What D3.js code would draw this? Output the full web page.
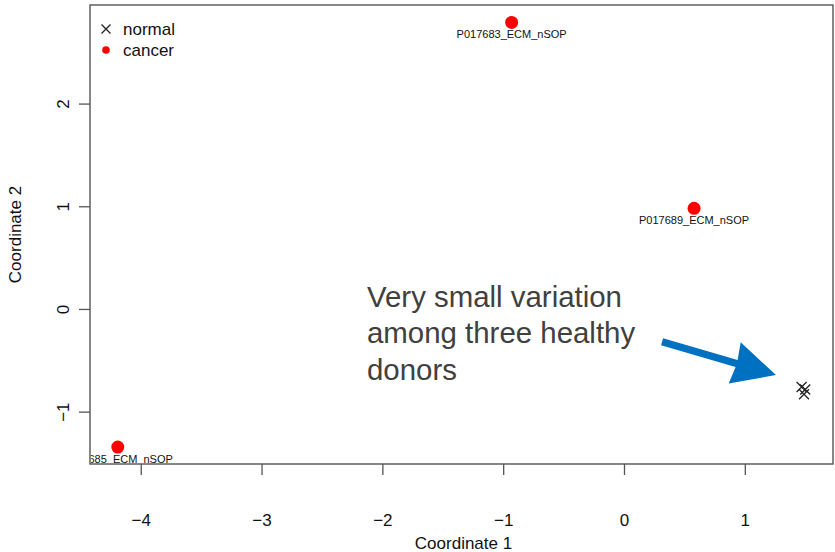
<!DOCTYPE html>
<html>
<head>
<meta charset="utf-8">
<script src="https://cdn.jsdelivr.net/npm/d3@7"></script>
<style>
  html, body { margin: 0; padding: 0; background: #fff; }
  svg { display: block; }
  text { font-family: "Liberation Sans", Arial, Helvetica, sans-serif; }
</style>
</head>
<body>
<svg id="chart" width="835" height="552"></svg>
<script>
// MDS coordinates of the ECM samples
const cancerNames = ["P017683_ECM_nSOP", "P017689_ECM_nSOP", "P017685_ECM_nSOP"];
const cancerX = [-0.93, 0.58, -4.19];
const cancerY = [2.79, 0.98, -1.345];

const normalX = [1.47, 1.49, 1.50];
const normalY = [-0.76, -0.83, -0.785];

const xTicks = [-4, -3, -2, -1, 0, 1];
const yTicks = [-1, 0, 1, 2];

const legendLabels = ["normal", "cancer"];
const noteLines = ["Very small variation", "among three healthy", "donors"];
// arrow from the note to the normal cluster, in data units: [tail, tip]
const arrowX = [0.315, 1.258];
const arrowY = [-0.32, -0.643];

const svg = d3.select("#chart");
const box = { left: 90, right: 833, top: 5, bottom: 464 };

const x = d3.scaleLinear().domain([-4.42, 1.73]).range([box.left, box.right]);
const y = d3.scaleLinear().domain([-1.51, 2.96]).range([box.bottom, box.top]);

const minus = d => (d < 0 ? "\u2212" + Math.abs(d) : String(d));

// axes
const xAxis = svg.append("g")
  .attr("transform", `translate(0,${box.bottom})`)
  .call(d3.axisBottom(x).tickValues(xTicks).tickSize(11).tickPadding(51).tickFormat(minus));
const yAxis = svg.append("g")
  .attr("transform", `translate(${box.left},0)`)
  .call(d3.axisLeft(y).tickValues(yTicks).tickSize(11).tickFormat(minus));

[xAxis, yAxis].forEach(g => {
  g.select(".domain").remove();
  g.selectAll(".tick line").attr("stroke", "#555").attr("stroke-width", 1.3);
  g.selectAll(".tick text").attr("fill", "#111").attr("font-size", 17)
    .attr("font-family", "'Liberation Sans', Arial, sans-serif");
});
xAxis.selectAll(".tick text").attr("dy", "0");
yAxis.selectAll(".tick text")
  .attr("x", null)
  .attr("text-anchor", "middle")
  .attr("transform", "translate(-27,0) rotate(-90)")
  .attr("dy", "0.35em");

// plot frame
svg.append("rect")
  .attr("x", box.left).attr("y", box.top)
  .attr("width", box.right - box.left).attr("height", box.bottom - box.top)
  .attr("fill", "none").attr("stroke", "#555").attr("stroke-width", 1.4);

// axis titles
svg.append("text").attr("x", (box.left + box.right) / 2 + 2).attr("y", 549)
  .attr("text-anchor", "middle").attr("font-size", 17).attr("fill", "#111")
  .text("Coordinate 1");
svg.append("text")
  .attr("transform", `translate(21,${(box.top + box.bottom) / 2}) rotate(-90)`)
  .attr("text-anchor", "middle").attr("font-size", 17).attr("fill", "#111")
  .text("Coordinate 2");

// clipped plotting region
svg.append("clipPath").attr("id", "plotClip").append("rect")
  .attr("x", box.left + 1).attr("y", box.top)
  .attr("width", box.right - box.left - 1).attr("height", box.bottom - box.top);
const plot = svg.append("g").attr("clip-path", "url(#plotClip)");

const cancer = cancerNames.map((n, i) => ({ name: n, x: cancerX[i], y: cancerY[i] }));
const normal = normalX.map((v, i) => ({ x: v, y: normalY[i] }));

plot.selectAll("circle.cancer").data(cancer).join("circle")
  .attr("class", "cancer")
  .attr("cx", d => x(d.x)).attr("cy", d => y(d.y)).attr("r", 6.5)
  .attr("fill", "#ff0000");

plot.selectAll("text.lab").data(cancer).join("text")
  .attr("class", "lab")
  .attr("x", d => x(d.x)).attr("y", d => y(d.y) + 15.5)
  .attr("text-anchor", "middle").attr("font-size", 11).attr("fill", "#111")
  .text(d => d.name);

const cross = (g, cx, cy, h) => {
  g.append("path")
    .attr("d", `M${cx - h},${cy - h}L${cx + h},${cy + h}M${cx - h},${cy + h}L${cx + h},${cy - h}`)
    .attr("stroke", "#222").attr("stroke-width", 1.3).attr("fill", "none");
};
normal.forEach(d => cross(plot, x(d.x), y(d.y), 5));

// legend
const lg = svg.append("g");
cross(lg, 106, 29, 4.5);
lg.append("circle").attr("cx", 106).attr("cy", 50).attr("r", 3.8).attr("fill", "#ff0000");
legendLabels.forEach((t, i) => {
  lg.append("text").attr("x", 123).attr("y", 35 + i * 21)
    .attr("font-size", 17).attr("fill", "#111").text(t);
});

// annotation note
const note = svg.append("g");
const noteX = x(-2.127), noteY0 = y(0.02);
const noteFont = "Carlito, Lato, 'Open Sans', sans-serif";
const first = note.append("text").attr("x", noteX).attr("y", noteY0)
  .attr("font-family", noteFont)
  .attr("font-size", 26).attr("fill", "#404040").text(noteLines[0]);
const w = first.node().getComputedTextLength();
const fs = 26 * 255 / w;
first.attr("font-size", fs);
noteLines.slice(1).forEach((t, i) => {
  note.append("text").attr("x", noteX).attr("y", noteY0 + (i + 1) * 36.5)
    .attr("font-family", noteFont)
    .attr("font-size", fs).attr("fill", "#404040").text(t);
});

// arrow
const tx = x(arrowX[0]), ty = y(arrowY[0]);
const hx = x(arrowX[1]), hy = y(arrowY[1]);
const len = Math.hypot(hx - tx, hy - ty);
const ux = (hx - tx) / len, uy = (hy - ty) / len;
const px = -uy, py = ux;
const headLen = 43, headHalf = 21.5, shaftHalf = 3.6;
const bx = hx - ux * headLen, by = hy - uy * headLen;
const pts = [
  [tx + px * shaftHalf, ty + py * shaftHalf],
  [bx + ux * 2 + px * shaftHalf, by + uy * 2 + py * shaftHalf],
  [bx + px * headHalf, by + py * headHalf],
  [hx, hy],
  [bx - px * headHalf, by - py * headHalf],
  [bx + ux * 2 - px * shaftHalf, by + uy * 2 - py * shaftHalf],
  [tx - px * shaftHalf, ty - py * shaftHalf]
];
svg.append("path").attr("d", "M" + pts.map(p => p.join(",")).join("L") + "Z")
  .attr("fill", "#0070c0");
</script>
</body>
</html>
